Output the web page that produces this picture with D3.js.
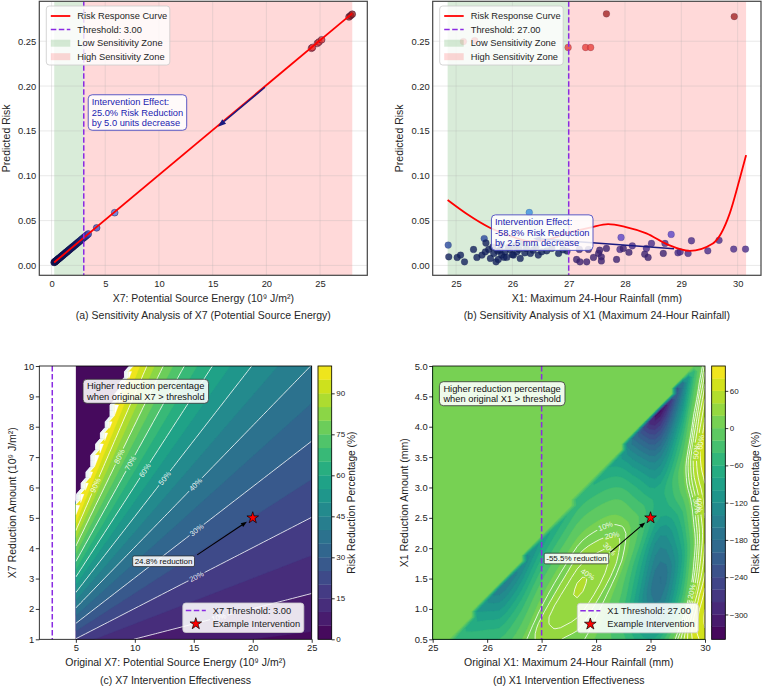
<!DOCTYPE html>
<html>
<head>
<meta charset="utf-8">
<script src="https://cdn.jsdelivr.net/npm/d3@7"></script>
<style>
  body { margin: 0; background: #fff; }
</style>
</head>
<body>
<svg id="chart" width="763" height="687"></svg>
<script>
// ---- values ----
var riskDomain = [-0.011, 0.2945];
var riskTicks = [0, 0.05, 0.10, 0.15, 0.20, 0.25];

// (a) X7 sensitivity
var x7Domain = [-1.14, 29.4];
var x7Ticks = [0, 5, 10, 15, 20, 25];
var x7Threshold = 3.0;
var x7Span = [0.25, 28.0];
var x7CurveX = [0.24, 28.0];
var x7CurveRisk = [0.0033, 0.281];
var x7PtX = [0.24, 0.28, 0.32, 0.36, 0.4, 0.45, 0.5, 0.55, 0.6, 0.66, 0.72, 0.78, 0.85, 0.92, 1.0, 1.06,
    1.12, 1.2, 1.28, 1.35, 1.42, 1.5, 1.58, 1.66, 1.75, 1.84, 1.92, 2.0, 2.1, 2.2, 2.3, 2.4, 2.5, 2.6,
    2.7, 2.8, 2.9, 3.0, 3.1, 3.2, 3.3, 3.42, 4.2, 5.88, 24.2, 24.3, 24.75, 24.9, 25.15, 27.7, 27.85, 28.0];
var x7PtRisk = [0.0033, 0.0037, 0.0041, 0.0045, 0.0049, 0.0054, 0.0059, 0.0064, 0.0069, 0.0075, 0.0081,
    0.0087, 0.0094, 0.0101, 0.0109, 0.0115, 0.0121, 0.0129, 0.0137, 0.0144, 0.0151, 0.0159, 0.0167, 0.0175,
    0.0184, 0.0193, 0.0201, 0.0209, 0.0219, 0.0229, 0.0239, 0.0249, 0.0259, 0.0269, 0.0279, 0.0289, 0.0299,
    0.0309, 0.0319, 0.0329, 0.0339, 0.0351, 0.0419, 0.0588, 0.2421, 0.2431, 0.2476, 0.2491, 0.2516, 0.2771,
    0.2786, 0.2801];
var x7ArrowX = [19.87, 15.5];
var x7ArrowRisk = [0.1987, 0.1547];
var x7Note = ["Intervention Effect:", "25.0% Risk Reduction", "by 5.0 units decrease"];
var x7NoteAt = [8.0, 0.1705];

// (b) X1 sensitivity
var x1Domain = [24.585, 30.415];
var x1Ticks = [25, 26, 27, 28, 29, 30];
var x1Threshold = 27.0;
var x1Span = [24.85, 30.15];
var x1CurveX = [24.85, 25.2, 25.6, 26.0, 26.3, 26.6, 27.0, 27.4, 27.7, 28.0, 28.38, 28.75, 29.15, 29.56, 29.86, 30.03, 30.15];
var x1CurveRisk = [0.0729, 0.057, 0.042, 0.032, 0.027, 0.0285, 0.0365, 0.0425, 0.046, 0.043, 0.0357, 0.0235, 0.0163, 0.0245, 0.058, 0.095, 0.123];
var x1PtX = [24.86, 24.87, 25.02, 25.08, 25.15, 25.31, 25.37, 25.46, 25.5, 25.53, 25.52, 25.58, 25.61, 25.65,
    25.67, 25.71, 25.74, 25.75, 25.78, 25.8, 25.81, 25.85, 25.87, 25.9, 25.93, 25.96, 26.0, 26.02, 26.05, 26.08,
    26.12, 26.14, 26.18, 26.22, 26.25, 26.3, 26.32, 26.37, 26.42, 26.46, 26.52, 26.61, 26.7, 26.82, 26.9, 26.97,
    27.14, 27.19, 27.2, 27.32, 27.35, 27.44, 27.53, 27.55, 27.58, 27.58, 27.67, 27.85, 27.91, 27.93, 27.97,
    28.07, 28.13, 28.35, 28.38, 28.41, 28.47, 28.68, 28.71, 28.82, 28.94, 28.98, 29.12, 29.18, 29.47, 29.67,
    29.93, 30.14, 25.13, 25.33, 26.99, 27.3, 27.39, 27.67, 29.94];
var x1PtRisk = [0.0227, 0.0096, 0.0089, 0.0115, 0.004, 0.0178, 0.0089, 0.0115, 0.03, 0.025, 0.0152, 0.0178,
    0.0078, 0.0205, 0.0134, 0.004, 0.016, 0.0067, 0.017, 0.023, 0.0115, 0.009, 0.0152, 0.0089, 0.02, 0.0178,
    0.012, 0.0115, 0.022, 0.0152, 0.018, 0.0078, 0.025, 0.014, 0.019, 0.059, 0.0134, 0.017, 0.02, 0.0115,
    0.0152, 0.0163, 0.019, 0.0134, 0.0175, 0.016,
    0.0066, 0.0178, 0.004, 0.004, 0.0178, 0.0089, 0.0134, 0.017, 0.0096, 0.005, 0.019, 0.0067, 0.0178, 0.0312,
    0.019, 0.0145, 0.0219, 0.0126, 0.019, 0.0089, 0.0245, 0.0134, 0.0245, 0.0346, 0.0141, 0.0152, 0.0134,
    0.0275, 0.0163, 0.028, 0.0182, 0.0182, 0.2496, 0.2507, 0.243, 0.243, 0.243, 0.2805, 0.2775];
// colour value of each point (as read from its hue)
var x1PtC = [0.2, 0.1, 0.1, 0.1, 0.1, 0.1, 0.1, 0.1, 0.2, 0.1, 0.1, 0.1, 0.1, 0.1, 0.1, 0.1, 0.1, 0.1, 0.1,
    0.1, 0.1, 0.1, 0.1, 0.1, 0.1, 0.1, 0.1, 0.1, 0.1, 0.1, 0.1, 0.1, 0.1, 0.1, 0.1, 0.3, 0.1, 0.1, 0.1, 0.1,
    0.1, 0.1, 0.1, 0.1, 0.1, 0.1,
    0.45, 0.45, 0.45, 0.45, 0.45, 0.45, 0.45, 0.45, 0.45, 0.45, 0.45, 0.45, 0.55, 0.62, 0.45, 0.45, 0.55,
    0.45, 0.55, 0.45, 0.55, 0.45, 0.55, 0.62, 0.55, 0.55, 0.55, 0.55, 0.55, 0.55, 0.55, 0.55,
    0.85, 0.85, 0.85, 0.85, 0.85, 1.0, 1.0];
var x1ArrowX = [28.87, 26.37];
var x1ArrowRisk = [0.0185, 0.0301];
var x1Note = ["Intervention Effect:", "-58.8% Risk Reduction", "by 2.5 mm decrease"];
var x1NoteAt = [26.53, 0.0366];

// (c) X7 intervention grid
var x7GridX = [5, 25];
var x7GridR = [1, 10];
var x7ZeroBelow = -0.45;
var x7PanelX = [1.9, 25];
var x7ReduceTicks = [1, 2, 3, 4, 5, 6, 7, 8, 9, 10];
var x7OrigTicks = [5, 10, 15, 20, 25];
var x7Levels = [0, 5, 10, 15, 20, 25, 30, 35, 40, 45, 50, 55, 60, 65, 70, 75, 80, 85, 90, 95, 100];
var x7LineLevels = [10, 20, 30, 40, 50, 60, 70, 80, 90];
var x7CbTicks = [0, 15, 30, 45, 60, 75, 90];
var x7LabelLevel = [90, 80, 70, 60, 50, 40, 30, 20, 10];
var x7LabelX = [6.62, 8.74, 9.65, 10.86, 12.55, 15.18, 15.24, 15.24, 17.07];
var x7LabelR = [6.08, 7.01, 6.8, 6.57, 6.3, 6.08, 4.6, 3.06, 1.8];
var x7Example = [20, 5];
var x7ExampleText = "24.8% reduction";
var x7ExampleTextAt = [12.44, 3.57];
var x7ExampleFrom = [15.29, 3.78];

// (d) X1 intervention grid
var x1GridX = [25, 30];
var x1GridR = [0.5, 5];
var x1ReduceTicks = [0.5, 1.0, 1.5, 2.0, 2.5, 3.0, 3.5, 4.0, 4.5, 5.0];
var x1OrigTicks = [25, 26, 27, 28, 29, 30];
var x1Levels = [-340, -320, -300, -280, -260, -240, -220, -200, -180, -160, -140, -120, -100, -80, -60, -40, -20, 0, 20, 40, 60, 80, 100];
var x1LineLevels = [10, 20, 30, 40, 50, 60, 70, 80, 90];
var x1CbTicks = [-300, -240, -180, -120, -60, 0, 60];
var x1LabelLevel = [10, 20, 30, 40, 60, 50, 40, 30, 20];
var x1LabelX = [28.04, 28.21, 28.35, 27.72, 29.88, 29.82, 29.79, 29.9, 29.88];
var x1LabelR = [2.58, 2.54, 2.27, 1.94, 3.75, 3.59, 2.71, 2.7, 1.26];
var x1Example = [29, 2.5];
var x1ExampleText = "-55.5% reduction";
var x1ExampleTextAt = [27.64, 1.83];
var x1ExampleFrom = [28.26, 1.93];

var gridN = 50;

// ---- drawing ----
var FONT = '"Liberation Sans", Arial, Helvetica, sans-serif';
var svg = d3.select("#chart").attr("font-family", FONT);
var defs = svg.append("defs");
var threshColor = "#8a2be2";

function arrow(g, x1, y1, x2, y2, color, width, len, wid)
{
    var a = Math.atan2(y2 - y1, x2 - x1);
    var bx = x2 - len * Math.cos(a), by = y2 - len * Math.sin(a);
    var px = -Math.sin(a) * wid / 2, py = Math.cos(a) * wid / 2;
    g.append("line")
        .attr("x1", x1).attr("y1", y1).attr("x2", bx).attr("y2", by)
        .attr("stroke", color).attr("stroke-width", width);
    g.append("path")
        .attr("d", "M" + x2 + "," + y2 + "L" + (bx + px) + "," + (by + py) + "L" + (bx - px) + "," + (by - py) + "Z")
        .attr("fill", color);
}

function styleAxis(sel, size, color)
{
    sel.attr("font-size", size).attr("font-family", FONT);
    sel.selectAll("text").attr("fill", color);
    sel.selectAll("line").attr("stroke", "#000").attr("stroke-width", 0.8);
}

// text box: lines left aligned, box fitted to the text
function noteBox(g, cx, cy, lines, opt)
{
    var box = g.append("g");
    var rect = box.append("rect");
    var lh = opt.size * 1.13;
    var texts = lines.map(function(t, i)
    {
        return box.append("text")
            .attr("font-size", opt.size)
            .attr("fill", opt.color)
            .attr("dy", "0.35em")
            .text(t);
    });
    var tw = d3.max(texts, function(t) { return t.node().getComputedTextLength(); });
    var bw = tw + 2 * opt.padX, bh = lines.length * lh + 2 * opt.padY;
    var x0 = cx - bw / 2, y0 = cy - bh / 2;
    texts.forEach(function(t, i)
    {
        t.attr("x", opt.center ? cx : x0 + opt.padX)
            .attr("text-anchor", opt.center ? "middle" : "start")
            .attr("y", y0 + opt.padY + lh * (i + 0.5));
    });
    rect.attr("x", x0).attr("y", y0).attr("width", bw).attr("height", bh)
        .attr("rx", opt.rx).attr("ry", opt.rx)
        .attr("fill", "#fff").attr("fill-opacity", opt.alpha)
        .attr("stroke", opt.stroke).attr("stroke-width", opt.strokeWidth);
    return [x0, y0, bw, bh];
}

function sensitivityPanel(p)
{
    var w = p.right - p.left, h = p.bottom - p.top;
    var g = svg.append("g").attr("transform", "translate(" + p.left + "," + p.top + ")");
    var x = d3.scaleLinear().domain(p.xDomain).range([0, w]);
    var y = d3.scaleLinear().domain(riskDomain).range([h, 0]);

    defs.append("clipPath").attr("id", p.id + "clip")
        .append("rect").attr("width", w).attr("height", h);
    var plot = g.append("g").attr("clip-path", "url(#" + p.id + "clip)");

    plot.append("rect")
        .attr("x", x(p.span[0])).attr("y", 0)
        .attr("width", x(p.threshold) - x(p.span[0])).attr("height", h)
        .attr("fill", "green").attr("fill-opacity", 0.15);
    plot.append("rect")
        .attr("x", x(p.threshold)).attr("y", 0)
        .attr("width", x(p.span[1]) - x(p.threshold)).attr("height", h)
        .attr("fill", "red").attr("fill-opacity", 0.15);

    plot.selectAll(".gx").data(p.xTicks).enter().append("line")
        .attr("x1", function(d) { return x(d); }).attr("x2", function(d) { return x(d); })
        .attr("y1", 0).attr("y2", h)
        .attr("stroke", "#b0b0b0").attr("stroke-opacity", 0.35).attr("stroke-width", 0.8);
    plot.selectAll(".gy").data(riskTicks).enter().append("line")
        .attr("y1", function(d) { return y(d); }).attr("y2", function(d) { return y(d); })
        .attr("x1", 0).attr("x2", w)
        .attr("stroke", "#b0b0b0").attr("stroke-opacity", 0.35).attr("stroke-width", 0.8);

    plot.selectAll(".pt").data(d3.range(p.ptX.length)).enter().append("circle")
        .attr("cx", function(i) { return x(p.ptX[i]); })
        .attr("cy", function(i) { return y(p.ptRisk[i]); })
        .attr("r", 3.4)
        .attr("fill", function(i) { return p.ptColor(i); })
        .attr("fill-opacity", 0.8)
        .attr("stroke", "#10103a").attr("stroke-opacity", p.edgeAlpha).attr("stroke-width", 0.6);

    plot.append("path")
        .datum(d3.range(p.curveX.length))
        .attr("d", d3.line()
            .x(function(i) { return x(p.curveX[i]); })
            .y(function(i) { return y(p.curveRisk[i]); })
            .curve(p.curve))
        .attr("fill", "none").attr("stroke", "red").attr("stroke-width", 1.8);

    plot.append("line")
        .attr("x1", x(p.threshold)).attr("x2", x(p.threshold)).attr("y1", 0).attr("y2", h)
        .attr("stroke", threshColor).attr("stroke-width", 1.5).attr("stroke-dasharray", "5.5,2.5");

    arrow(plot, x(p.arrowX[0]), y(p.arrowRisk[0]), x(p.arrowX[1]), y(p.arrowRisk[1]), "#1a1a80", 1.5, 8, 6);

    g.append("rect").attr("width", w).attr("height", h)
        .attr("fill", "none").attr("stroke", "#444").attr("stroke-width", 1.2);

    var ax = g.append("g").attr("transform", "translate(0," + h + ")")
        .call(d3.axisBottom(x).tickValues(p.xTicks).tickSize(0).tickPadding(5.5).tickFormat(d3.format("d")));
    ax.select(".domain").remove();
    styleAxis(ax, 9.4, "#262626");
    var ay = g.append("g")
        .call(d3.axisLeft(y).tickValues(riskTicks).tickSize(0).tickPadding(3).tickFormat(d3.format(".2f")));
    ay.select(".domain").remove();
    styleAxis(ay, 9.4, "#262626");

    g.append("text").attr("x", w / 2).attr("y", h + 27)
        .attr("text-anchor", "middle").attr("font-size", 10.5).attr("fill", "#262626").text(p.xLabel);
    g.append("text").attr("x", w / 2).attr("y", h + 43.5)
        .attr("text-anchor", "middle").attr("font-size", 10.5).attr("fill", "#262626").text(p.title);
    g.append("text").attr("transform", "translate(" + p.yLabelX + "," + h / 2 + ") rotate(-90)")
        .attr("text-anchor", "middle").attr("dy", "0.35em")
        .attr("font-size", 10.5).attr("fill", "#262626").text("Predicted Risk");

    // legend
    var lg = g.append("g").attr("transform", "translate(7,4.7)");
    lg.append("rect").attr("width", 123.5).attr("height", 59).attr("rx", 3)
        .attr("fill", "#fff").attr("fill-opacity", 0.8).attr("stroke", "#cccccc").attr("stroke-width", 0.8);
    var rows = [10, 23.5, 37.2, 50.7];
    lg.append("line").attr("x1", 4.5).attr("x2", 24).attr("y1", rows[0]).attr("y2", rows[0])
        .attr("stroke", "red").attr("stroke-width", 1.8);
    lg.append("line").attr("x1", 4.5).attr("x2", 24).attr("y1", rows[1]).attr("y2", rows[1])
        .attr("stroke", threshColor).attr("stroke-width", 1.5).attr("stroke-dasharray", "5.5,2.5");
    lg.append("rect").attr("x", 4.5).attr("y", rows[2] - 3.5).attr("width", 19.5).attr("height", 7)
        .attr("fill", "green").attr("fill-opacity", 0.15);
    lg.append("rect").attr("x", 4.5).attr("y", rows[3] - 3.5).attr("width", 19.5).attr("height", 7)
        .attr("fill", "red").attr("fill-opacity", 0.15);
    var labels = ["Risk Response Curve", "Threshold: " + d3.format(".2f")(p.threshold), "Low Sensitivity Zone", "High Sensitivity Zone"];
    labels.forEach(function(t, i)
    {
        lg.append("text").attr("x", 31).attr("y", rows[i]).attr("dy", "0.35em")
            .attr("font-size", 9.3).attr("fill", "#262626").text(t);
    });

    noteBox(g, x(p.noteAt[0]), y(p.noteAt[1]), p.note,
        {size: 9.3, color: "#2222b0", padX: 3.5, padY: 2, rx: 4, alpha: 0.85, stroke: "#4a4ac0", strokeWidth: 0.9});
}

// monotone cubic (same slopes as d3.curveMonotoneX) so the grid follows the drawn curve
function monotoneCurve(xs, ys)
{
    var n = xs.length, m = new Array(n);
    for (var i = 1; i < n - 1; i++) {
        var h0 = xs[i] - xs[i - 1], h1 = xs[i + 1] - xs[i];
        var s0 = (ys[i] - ys[i - 1]) / h0, s1 = (ys[i + 1] - ys[i]) / h1;
        var pp = (s0 * h1 + s1 * h0) / (h0 + h1);
        m[i] = ((s0 < 0 ? -1 : 1) + (s1 < 0 ? -1 : 1)) * Math.min(Math.abs(s0), Math.abs(s1), 0.5 * Math.abs(pp)) || 0;
    }
    m[0] = (3 * (ys[1] - ys[0]) / (xs[1] - xs[0]) - m[1]) / 2;
    m[n - 1] = (3 * (ys[n - 1] - ys[n - 2]) / (xs[n - 1] - xs[n - 2]) - m[n - 2]) / 2;
    return function(v)
    {
        var k = Math.max(0, Math.min(n - 2, d3.bisectRight(xs, v) - 1));
        var hh = xs[k + 1] - xs[k], t = (v - xs[k]) / hh, t2 = t * t, t3 = t2 * t;
        return (2 * t3 - 3 * t2 + 1) * ys[k] + (t3 - 2 * t2 + t) * hh * m[k]
            + (-2 * t3 + 3 * t2) * ys[k + 1] + (t3 - t2) * hh * m[k + 1];
    };
}

var x7Risk = d3.scaleLinear().domain(x7CurveX).range(x7CurveRisk);
var x1Risk = monotoneCurve(x1CurveX, x1CurveRisk);

function x7Reduction(orig, cut)
{
    if (orig - cut < x7ZeroBelow) return 0;
    var r0 = x7Risk(orig), r1 = x7Risk(orig - cut);
    return (r0 - r1) / r0 * 100;
}

function x1Reduction(orig, cut)
{
    if (orig - cut < x1CurveX[0]) return 0;
    var r0 = x1Risk(orig), r1 = x1Risk(orig - cut);
    return (r0 - r1) / r0 * 100;
}

// pieces of contour rings that are not on the grid border
function contourLines(mp, n)
{
    var out = [];
    function edge(q) { return q[0] <= 0 || q[0] >= n || q[1] <= 0 || q[1] >= n; }
    mp.coordinates.forEach(function(poly)
    {
        poly.forEach(function(ring)
        {
            var cur = [];
            for (var i = 0; i < ring.length - 1; i++) {
                var a = ring[i], b = ring[i + 1];
                if (edge(a) && edge(b)) {
                    if (cur.length > 1) out.push(cur);
                    cur = [];
                } else {
                    if (!cur.length) cur.push(a);
                    cur.push(b);
                }
            }
            if (cur.length > 1) out.push(cur);
        });
    });
    return out;
}

function contourPanel(p)
{
    var w = p.right - p.left, h = p.bottom - p.top;
    var g = svg.append("g").attr("transform", "translate(" + p.left + "," + p.top + ")");
    var x = d3.scaleLinear().domain(p.xDomain).range([0, w]);
    var y = d3.scaleLinear().domain(p.yDomain).range([h, 0]);
    var n = gridN;
    var gi = d3.scaleLinear().domain([0, n - 1]).range(p.gridX);
    var gj = d3.scaleLinear().domain([0, n - 1]).range(p.gridY);
    var values = [];
    for (var j = 0; j < n; j++)
        for (var i = 0; i < n; i++)
            values.push(p.field(gi(i), gj(j)));

    var proj = d3.geoTransform({
        point: function(px, py) { this.stream.point(x(gi(px - 0.5)), y(gj(py - 0.5))); }
    });
    var path = d3.geoPath(proj);
    var contours = d3.contours().size([n, n]);

    defs.append("clipPath").attr("id", p.id + "clip")
        .append("rect")
        .attr("x", x(p.gridX[0])).attr("y", y(p.gridY[1]))
        .attr("width", x(p.gridX[1]) - x(p.gridX[0])).attr("height", y(p.gridY[0]) - y(p.gridY[1]));
    var plot = g.append("g").attr("clip-path", "url(#" + p.id + "clip)");

    var K = p.levels.length - 1;
    function bandColor(k) { return d3.interpolateViridis((k + 0.5) / K); }
    p.levels.forEach(function(lv, k)
    {
        var c = k < K ? bandColor(k) : "#fff";
        plot.append("path").attr("d", path(contours.contour(values, lv)))
            .attr("fill", c).attr("stroke", c).attr("stroke-width", 0.35);
    });

    // contour labels: snap the read positions onto their level
    function f(sx, sy) { return p.field(x.invert(sx), y.invert(sy)); }
    var labels = [];
    p.labelLevel.forEach(function(lv, k)
    {
        var sx = x(p.labelX[k]), sy = y(p.labelR[k]), fx = 0, fy = 0;
        for (var it = 0; it < 12; it++) {
            var e = 0.5;
            var v = f(sx, sy) - lv;
            fx = (f(sx + e, sy) - f(sx - e, sy)) / (2 * e);
            fy = (f(sx, sy + e) - f(sx, sy - e)) / (2 * e);
            var g2 = fx * fx + fy * fy;
            if (!g2) break;
            var dx = -v * fx / g2, dy = -v * fy / g2, dl = Math.sqrt(dx * dx + dy * dy);
            if (dl > 5) { dx *= 5 / dl; dy *= 5 / dl; }
            sx += dx; sy += dy;
        }
        if (Math.abs(f(sx, sy) - lv) > 2) return;
        var ang = Math.atan2(fx, -fy) * 180 / Math.PI;
        if (ang > 90) ang -= 180;
        if (ang < -90) ang += 180;
        labels.push({x: sx, y: sy, a: ang, t: lv + "%"});
    });

    var maskId = p.id + "mask";
    var mask = defs.append("mask").attr("id", maskId).attr("maskUnits", "userSpaceOnUse")
        .attr("x", -20).attr("y", -20).attr("width", w + 40).attr("height", h + 40);
    mask.append("rect").attr("x", -20).attr("y", -20).attr("width", w + 40).attr("height", h + 40).attr("fill", "#fff");

    var lineG = plot.append("g").attr("mask", "url(#" + maskId + ")");
    var toPx = d3.line()
        .x(function(q) { return x(gi(q[0] - 0.5)); })
        .y(function(q) { return y(gj(q[1] - 0.5)); });
    p.lineLevels.forEach(function(lv)
    {
        contourLines(contours.contour(values, lv), n).forEach(function(ln)
        {
            lineG.append("path").attr("d", toPx(ln))
                .attr("fill", "none").attr("stroke", "#fff").attr("stroke-width", 0.9).attr("stroke-opacity", 0.9);
        });
    });

    labels.forEach(function(lb)
    {
        var t = plot.append("text")
            .attr("transform", "translate(" + lb.x + "," + lb.y + ") rotate(" + lb.a + ")")
            .attr("text-anchor", "middle").attr("dy", "0.35em")
            .attr("font-size", 7.5).attr("fill", "#fff").attr("fill-opacity", 0.9).text(lb.t);
        var tw = t.node().getComputedTextLength();
        mask.append("rect")
            .attr("x", -tw / 2 - 1.5).attr("y", -4).attr("width", tw + 3).attr("height", 8)
            .attr("transform", "translate(" + lb.x + "," + lb.y + ") rotate(" + lb.a + ")")
            .attr("fill", "#000");
    });

    g.append("line")
        .attr("x1", x(p.threshold)).attr("x2", x(p.threshold)).attr("y1", 0).attr("y2", h)
        .attr("stroke", threshColor).attr("stroke-width", 1.5).attr("stroke-dasharray", "5.5,2.5");

    // annotation box
    noteBox(g, p.noteBox[0], p.noteBox[1], p.note,
        {size: 9.3, color: "#111", padX: 4, padY: 1.5, rx: 4, alpha: 0.88, stroke: "#333", strokeWidth: 0.8});

    // example intervention
    var ex = x(p.example[0]), ey = y(p.example[1]);
    var fx0 = x(p.exampleFrom[0]), fy0 = y(p.exampleFrom[1]);
    var ang = Math.atan2(ey - fy0, ex - fx0);
    arrow(g, fx0, fy0, ex - 7 * Math.cos(ang), ey - 7 * Math.sin(ang), "#000", 1.1, 6, 4.5);
    noteBox(g, x(p.exampleTextAt[0]), y(p.exampleTextAt[1]), [p.exampleText],
        {size: 8, color: "#111", padX: 2, padY: 0.8, rx: 1.5, alpha: 0.88, stroke: "#222", strokeWidth: 0.7, center: true});
    g.append("path").attr("d", d3.symbol(d3.symbolStar).size(42)())
        .attr("transform", "translate(" + ex + "," + ey + ")")
        .attr("fill", "red").attr("stroke", "#000").attr("stroke-width", 0.7);

    g.append("rect").attr("width", w).attr("height", h)
        .attr("fill", "none").attr("stroke", "#000").attr("stroke-width", 0.8);

    var ax = g.append("g").attr("transform", "translate(0," + h + ")")
        .call(d3.axisBottom(x).tickValues(p.xTicks).tickSize(3.5).tickPadding(1.5).tickFormat(d3.format("d")));
    ax.select(".domain").remove();
    styleAxis(ax, 9.4, "#222");
    var ay = g.append("g")
        .call(d3.axisLeft(y).tickValues(p.yTicks).tickSize(3.5).tickPadding(1.5).tickFormat(d3.format(p.yFormat)));
    ay.select(".domain").remove();
    styleAxis(ay, 9.4, "#222");

    g.append("text").attr("x", w / 2).attr("y", h + 27)
        .attr("text-anchor", "middle").attr("font-size", 10.5).attr("fill", "#222").text(p.xLabel);
    g.append("text").attr("x", w / 2).attr("y", h + 44.5)
        .attr("text-anchor", "middle").attr("font-size", 10.5).attr("fill", "#222").text(p.title);
    g.append("text").attr("transform", "translate(" + p.yLabelX + "," + h / 2 + ") rotate(-90)")
        .attr("text-anchor", "middle").attr("dy", "0.35em")
        .attr("font-size", 10.5).attr("fill", "#222").text(p.yLabel);

    // legend
    var lg = g.append("g").attr("transform", "translate(" + p.legendAt[0] + "," + p.legendAt[1] + ")");
    lg.append("rect").attr("width", 121).attr("height", 29.5).attr("rx", 3)
        .attr("fill", "#fff").attr("fill-opacity", 0.88).attr("stroke", "#cccccc").attr("stroke-width", 0.8);
    lg.append("line").attr("x1", 3).attr("x2", 23).attr("y1", 7.5).attr("y2", 7.5)
        .attr("stroke", threshColor).attr("stroke-width", 1.5).attr("stroke-dasharray", "5.5,2.5");
    lg.append("path").attr("d", d3.symbol(d3.symbolStar).size(42)())
        .attr("transform", "translate(13,20.8)")
        .attr("fill", "red").attr("stroke", "#000").attr("stroke-width", 0.7);
    lg.append("text").attr("x", 30).attr("y", 7.5).attr("dy", "0.35em")
        .attr("font-size", 9.3).attr("fill", "#222").text(p.thresholdLabel);
    lg.append("text").attr("x", 30).attr("y", 20.8).attr("dy", "0.35em")
        .attr("font-size", 9.3).attr("fill", "#222").text("Example Intervention");

    // colorbar
    var cb = svg.append("g").attr("transform", "translate(" + p.cbLeft + "," + p.top + ")");
    var cbw = p.cbRight - p.cbLeft;
    var cy = d3.scaleLinear().domain([p.levels[0], p.levels[K]]).range([h, 0]);
    for (var k = 0; k < K; k++) {
        cb.append("rect").attr("x", 0).attr("width", cbw)
            .attr("y", cy(p.levels[k + 1])).attr("height", cy(p.levels[k]) - cy(p.levels[k + 1]))
            .attr("fill", bandColor(k)).attr("stroke", bandColor(k)).attr("stroke-width", 0.3);
    }
    cb.append("rect").attr("width", cbw).attr("height", h)
        .attr("fill", "none").attr("stroke", "#000").attr("stroke-width", 0.8);
    var ac = cb.append("g").attr("transform", "translate(" + cbw + ",0)")
        .call(d3.axisRight(cy).tickValues(p.cbTicks).tickSize(3).tickPadding(1.5).tickFormat(d3.format("d")));
    ac.select(".domain").remove();
    styleAxis(ac, 8, "#222");
    cb.append("text").attr("transform", "translate(" + p.cbLabelDx + "," + h / 2 + ") rotate(-90)")
        .attr("text-anchor", "middle").attr("dy", "0.35em")
        .attr("font-size", 10.2).attr("fill", "#222").text("Risk Reduction Percentage (%)");
}

var x7Color = d3.scaleLinear()
    .domain([0, 0.025, 0.035, 0.06, 0.24, 0.28])
    .range(["#0f105c", "#14207a", "#3848c0", "#5a78dc", "#f03c3c", "#a01e1e"]);
var x1Color = d3.scaleLinear()
    .domain([0.1, 0.2, 0.3, 0.45, 0.55, 0.62, 0.85, 1.0])
    .range(["#13225c", "#2a4a9e", "#3a8ee0", "#3b2270", "#4a2d8a", "#5a44c6", "#e8413c", "#a32626"]);

sensitivityPanel({
    id: "pa", left: 39.3, right: 367.3, top: 1.3, bottom: 275.3,
    xDomain: x7Domain, xTicks: x7Ticks, threshold: x7Threshold, span: x7Span,
    ptX: x7PtX, ptRisk: x7PtRisk, ptColor: function(i) { return x7Color(x7PtRisk[i]); }, edgeAlpha: 0.7,
    curveX: x7CurveX, curveRisk: x7CurveRisk, curve: d3.curveLinear,
    arrowX: x7ArrowX, arrowRisk: x7ArrowRisk, note: x7Note, noteAt: x7NoteAt,
    xLabel: "X7: Potential Source Energy (10\u2079 J/m\u00b2)",
    title: "(a) Sensitivity Analysis of X7 (Potential Source Energy)",
    yLabelX: -33
});

sensitivityPanel({
    id: "pb", left: 432.7, right: 761, top: 1.3, bottom: 275.3,
    xDomain: x1Domain, xTicks: x1Ticks, threshold: x1Threshold, span: x1Span,
    ptX: x1PtX, ptRisk: x1PtRisk, ptColor: function(i) { return x1Color(x1PtC[i]); }, edgeAlpha: 0.25,
    curveX: x1CurveX, curveRisk: x1CurveRisk, curve: d3.curveMonotoneX,
    arrowX: x1ArrowX, arrowRisk: x1ArrowRisk, note: x1Note, noteAt: x1NoteAt,
    xLabel: "X1: Maximum 24-Hour Rainfall (mm)",
    title: "(b) Sensitivity Analysis of X1 (Maximum 24-Hour Rainfall)",
    yLabelX: -33.5
});

contourPanel({
    id: "pc", left: 39.3, right: 311.7, top: 366, bottom: 639.3,
    xDomain: x7PanelX, yDomain: [1, 10], gridX: x7GridX, gridY: x7GridR,
    field: x7Reduction, levels: x7Levels, lineLevels: x7LineLevels,
    labelLevel: x7LabelLevel, labelX: x7LabelX, labelR: x7LabelR,
    threshold: x7Threshold, thresholdLabel: "X7 Threshold: 3.00",
    note: ["Higher reduction percentage", "when original X7 > threshold"], noteBox: [106.5, 25.3],
    example: x7Example, exampleFrom: x7ExampleFrom, exampleText: x7ExampleText, exampleTextAt: x7ExampleTextAt,
    xTicks: x7OrigTicks, yTicks: x7ReduceTicks, yFormat: "d",
    xLabel: "Original X7: Potential Source Energy (10\u2079 J/m\u00b2)",
    yLabel: "X7 Reduction Amount (10\u2079 J/m\u00b2)",
    title: "(c) X7 Intervention Effectiveness", yLabelX: -26.6,
    legendAt: [143.5, 237],
    cbLeft: 318, cbRight: 331.7, cbTicks: x7CbTicks, cbLabelDx: 33.5
});

contourPanel({
    id: "pd", left: 432.7, right: 705, top: 366, bottom: 639.3,
    xDomain: [25, 30], yDomain: [0.5, 5], gridX: x1GridX, gridY: x1GridR,
    field: x1Reduction, levels: x1Levels, lineLevels: x1LineLevels,
    labelLevel: x1LabelLevel, labelX: x1LabelX, labelR: x1LabelR,
    threshold: x1Threshold, thresholdLabel: "X1 Threshold: 27.00",
    note: ["Higher reduction percentage", "when original X1 > threshold"], noteBox: [69.5, 27.7],
    example: x1Example, exampleFrom: x1ExampleFrom, exampleText: x1ExampleText, exampleTextAt: x1ExampleTextAt,
    xTicks: x1OrigTicks, yTicks: x1ReduceTicks, yFormat: ".1f",
    xLabel: "Original X1: Maximum 24-Hour Rainfall (mm)",
    yLabel: "X1 Reduction Amount (mm)",
    title: "(d) X1 Intervention Effectiveness", yLabelX: -28.7,
    legendAt: [144.6, 237.3],
    cbLeft: 711.7, cbRight: 725.3, cbTicks: x1CbTicks, cbLabelDx: 43.5
});
</script>
</body>
</html>
